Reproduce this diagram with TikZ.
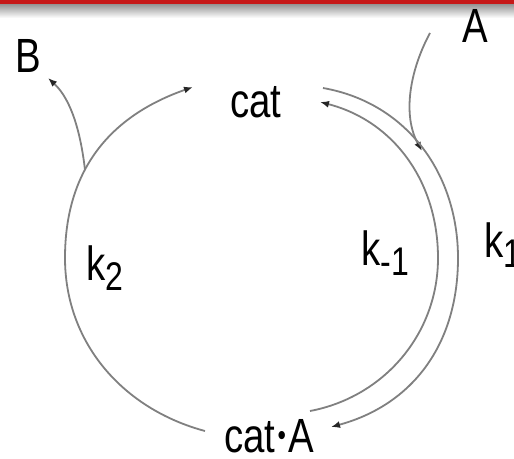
\documentclass[tikz,border=0pt]{standalone}
\usepackage{fontspec}
\setmainfont{Liberation Sans}[FakeStretch=0.8]
\usetikzlibrary{arrows.meta}
\begin{document}
\begin{tikzpicture}[x=1pt,y=-1pt,
  lbl/.style={font=\fontsize{48}{50}\selectfont, inner sep=0pt, anchor=base},
  klbl/.style={font=\fontsize{48}{50}\selectfont, inner sep=0pt, anchor=base west},
  conn/.style={draw=black!50, line width=1.8pt},
  tipd/.style={-{Latex[length=9pt,width=7pt,color=black!85]}}]
\useasboundingbox (0,0) rectangle (514,458);
\fill[white] (0,0) rectangle (514,458);
\shade[top color=black!45, bottom color=white] (0,3) rectangle (514,18);
\fill[red!75!black!90!white] (0,0) rectangle (514,3.5);
% labels
\node[lbl] (cat) at (256,117) {cat};
\node[lbl] (catA) at (269,452) {cat\hspace{2pt}\raisebox{7pt}{\fontsize{30}{30}\selectfont\textbullet}\hspace{2pt}A};
\node[lbl] (A) at (475,42) {A};
\node[lbl] (B) at (28,72) {B};
\node[klbl] (k2) at (86,280) {k\raisebox{-10pt}{\fontsize{40}{40}\selectfont 2}};
\node[klbl] (km1) at (361,265) {k\raisebox{-10pt}{\fontsize{40}{40}\selectfont -1}};
\node[klbl] (k1) at (484,257) {k\raisebox{-10pt}{\fontsize{40}{40}\selectfont 1}};
% connector end points
\coordinate (lS) at (205,431);
\coordinate (lM) at (65,258);
\coordinate (lE) at (193,87);
\coordinate (bS) at (85,170);
\coordinate (bE) at (48,78);
\coordinate (aS) at (430,33);
\coordinate (aE) at (422,151);
\coordinate (oS) at (323,88);
\coordinate (oM) at (458,258);
\coordinate (oE) at (331,427);
\coordinate (iS) at (310,411);
\coordinate (iM) at (438,258);
\coordinate (iE) at (320,102);
% left arc cat.A -> cat (k2)
\draw[conn,tipd] (lS) .. controls (123,409) and (65,343) .. (lM)
                      .. controls (65,170) and (110,116) .. (lE);
% B branch
\draw[conn,tipd] (bS) .. controls (81,135) and (72,100) .. (bE);
% A branch
\draw[conn,tipd] (aS) .. controls (410,70) and (402,115) .. (aE);
% outer arc cat -> cat.A (k1)
\draw[conn,tipd] (oS) .. controls (408,103) and (458,175) .. (oM)
                      .. controls (458,345) and (412,405) .. (oE);
% inner arc cat.A -> cat (k-1)
\draw[conn,tipd] (iS) .. controls (384,397) and (438,334) .. (iM)
                      .. controls (438,182) and (394,121) .. (iE);
\end{tikzpicture}
\end{document}
